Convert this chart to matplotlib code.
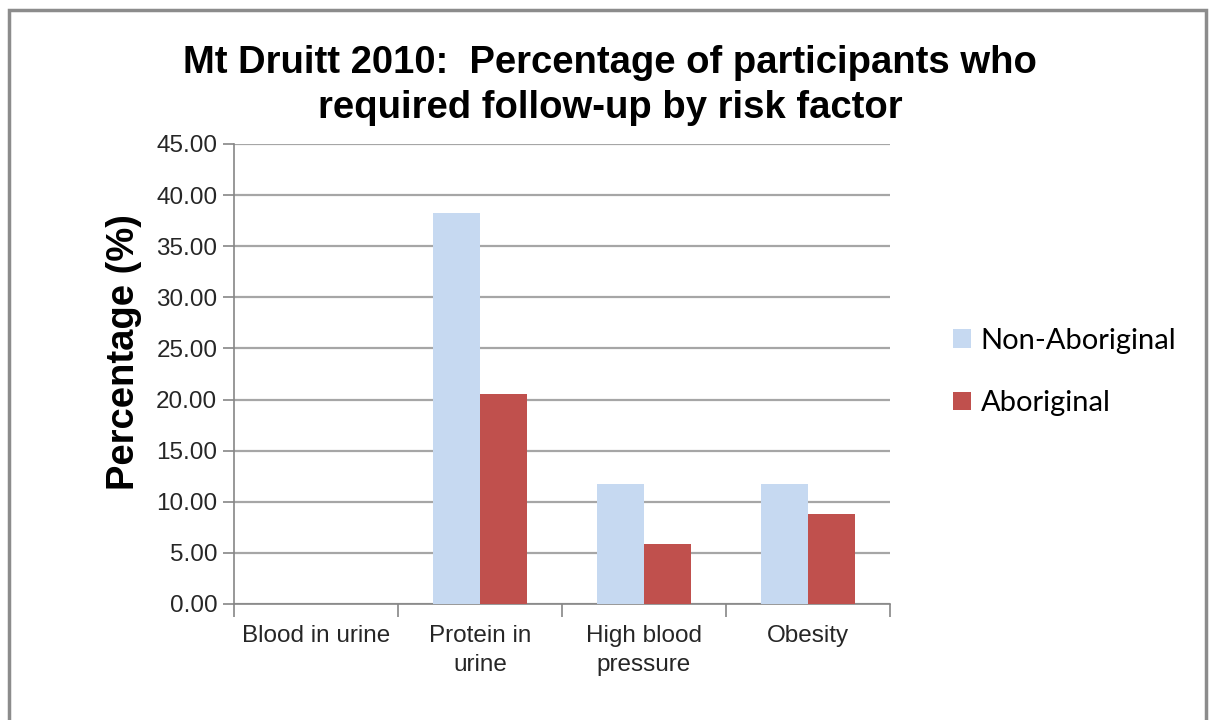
import numpy as np
import matplotlib
matplotlib.use('Agg')
import matplotlib.pyplot as plt
from matplotlib.patches import Rectangle

# -----------------------------
# Data
# -----------------------------
categories = ["Blood in urine", "Protein in\nurine", "High blood\npressure", "Obesity"]
non_aboriginal = [0.00, 38.24, 11.76, 11.76]
aboriginal = [0.00, 20.59, 5.88, 8.82]
series_names = ["Non-Aboriginal", "Aboriginal"]
y_ticks = [0, 5, 10, 15, 20, 25, 30, 35, 40, 45]

W, H = 1214, 720
fig = plt.figure(figsize=(W / 100, H / 100), dpi=100)
plt.rcParams['font.family'] = ['Liberation Sans', 'DejaVu Sans']

# outer chart border (bottom edge runs off the picture)
fig.patches.append(Rectangle((9 / W, -0.05), (1206 - 9) / W, 1.05 - 10 / H,
                             transform=fig.transFigure, fill=False,
                             edgecolor="#8c8c8c", linewidth=2.5))

ax = fig.add_axes([234 / W, 116 / H, (890 - 234) / W, (604 - 144) / H])

x = np.arange(len(categories))
bw = 1 / 3.5  # Excel default gap width 150%
ax.bar(x - bw / 2, non_aboriginal, bw, color="#C6D9F1", label=series_names[0], zorder=3)
ax.bar(x + bw / 2, aboriginal, bw, color="#C0504D", label=series_names[1], zorder=3)

ax.set_xlim(-0.5, len(categories) - 0.5)
ax.set_ylim(0, 45)
ax.set_yticks(y_ticks)
ax.set_yticklabels([f"{v:.2f}" for v in y_ticks], fontsize=17.5, color="#262626")
ax.yaxis.grid(True, color="#a6a6a6", linewidth=1.6, zorder=0)
ax.tick_params(axis='y', length=8, width=1.2, color="#868686", pad=4)

ax.set_xticks(x)
ax.set_xticklabels(categories, fontsize=17.5, color="#262626", linespacing=1.45)
ax.tick_params(axis='x', which='major', length=0, pad=15)
ax.set_xticks(np.arange(len(categories) + 1) - 0.5, minor=True)
ax.tick_params(axis='x', which='minor', length=9, width=1.2, color="#868686")

for side in ("top", "right"):
    ax.spines[side].set_visible(False)
for side in ("left", "bottom"):
    ax.spines[side].set_color("#868686")
    ax.spines[side].set_linewidth(1.2)

fig.text(0.5025, 0.938, "Mt Druitt 2010:  Percentage of participants who\nrequired follow-up by risk factor",
         ha="center", va="top", fontsize=27.5, fontweight="bold", linespacing=1.33)
fig.text(124 / W, (H - 352) / H, "Percentage (%)", rotation=90, ha="center", va="center",
         fontsize=27.5, fontweight="bold")

fig.legend(loc="center left", bbox_to_anchor=(953 / W, (H - 372) / H), frameon=False,
           prop={"family": "Lato", "size": 21}, handlelength=0.6, handleheight=0.6,
           handletextpad=0.35, labelspacing=1.25, borderaxespad=0, borderpad=0)

fig.savefig("out.png", dpi=100)
